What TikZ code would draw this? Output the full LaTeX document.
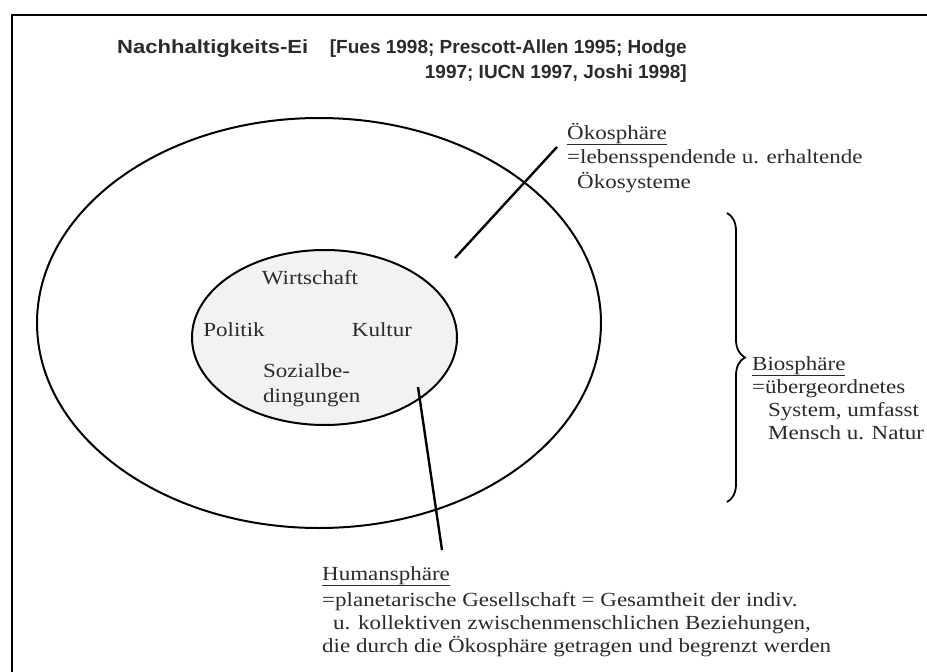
\documentclass[tikz,border=0pt]{standalone}
\usepackage{fontspec}
\setmainfont{Liberation Serif}[FakeStretch=1.15]
\newfontfamily\titlefont{Liberation Sans}[FakeStretch=1.16]
\newfontfamily\reffont{Liberation Sans}
\usetikzlibrary{decorations.pathreplacing}
\definecolor{inkgray}{HTML}{2B2B2B}
\definecolor{eggfill}{HTML}{F2F2F2}
\tikzset{
  txt/.style={inner sep=0pt, text=inkgray, align=left, font=\fontsize{20}{23}\selectfont},
  hdr/.style={inner sep=0pt, text=inkgray, font=\bfseries\fontsize{19}{25}\selectfont},
  egg/.style={draw=black, line width=2pt},
  pointer/.style={draw=black, line width=2.4pt},
}
\begin{document}
\begin{tikzpicture}[x=1pt,y=-1pt]
\useasboundingbox (0,0) rectangle (927,672);
\clip (0,0) rectangle (927,672);
\fill[white] (0,0) rectangle (927,672);
\draw[line width=2pt] (11.5,700) -- (11.5,14.5) -- (950,14.5);

   \node[hdr, font=\titlefont\bfseries\fontsize{19}{25}\selectfont, anchor=base west] at (117,53) (title) {Nachhaltigkeits-Ei};
   \node[hdr, font=\reffont\bfseries\fontsize{19}{25}\selectfont, align=right, anchor=base east] at (687,78) (refs) {[Fues 1998; Prescott-Allen 1995; Hodge\\1997; IUCN 1997, Joshi 1998]};

% the two eggs
   \draw[egg] (319,323) ellipse [x radius=282, y radius=205];
   \draw[egg, fill=eggfill] (324.5,337.5) ellipse [x radius=132.5, y radius=87.5];

   \node[txt] at (310,278) (wirt) {Wirtschaft};
   \node[txt] at (234,330) (pol) {Politik};
   \node[txt] at (382,330) (kul) {Kultur};
   \node[txt, anchor=west, font=\fontsize{20}{25}\selectfont] at (263,385.5) (soz) {Sozialbe-\\dingungen};

   \node[txt, font=\fontsize{20}{24.5}\selectfont, anchor=base west] at (567,188) (oeko) {\underline{Ökosphäre}\\=lebensspendende u. erhaltende\\\hspace*{10pt}Ökosysteme};
   \node[txt, anchor=base west] at (752,439) (bio) {\underline{Biosphäre}\\=übergeordnetes\\\hspace*{16pt}System, umfasst\\\hspace*{16pt}Mensch u. Natur};
   \node[txt, anchor=base west] at (322,652) (human) {\underline{Humansphäre}\\[3pt]=planetarische Gesellschaft = Gesamtheit der indiv.\\\hspace*{11pt}u. kollektiven zwischenmenschlichen Beziehungen,\\die durch die Ökosphäre getragen und begrenzt werden};

   \coordinate (oa) at (557,147);
   \coordinate (ob) at (455,258);
   \coordinate (ha) at (418,387);
   \coordinate (hb) at (442,550);
   \coordinate (bt) at (727,213);
   \coordinate (bb) at (727,502);

   \draw[pointer] (oa) -- (ob);
   \draw[pointer] (ha) -- (hb);
   \draw[line width=1.8pt, decorate, decoration={brace, amplitude=18pt}] (bt) -- (bb);

\end{tikzpicture}
\end{document}
